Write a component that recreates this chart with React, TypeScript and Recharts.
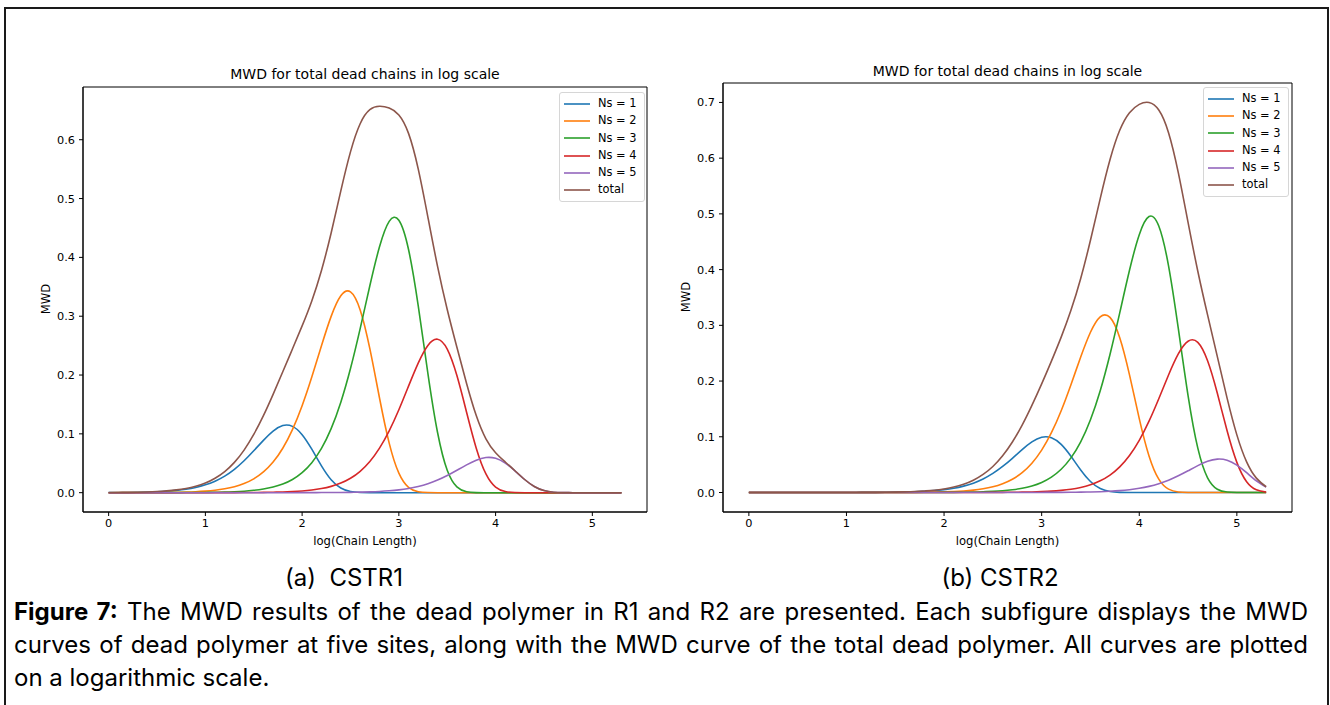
import React from 'react';
import { LineChart, Line, XAxis, YAxis, Legend, ReferenceArea } from 'recharts';

// x grid: log10(chain length)
const logLength = [
  0, 0.1, 0.2, 0.3, 0.4, 0.5, 0.6, 0.7, 0.8, 0.9,
  1, 1.1, 1.2, 1.3, 1.4, 1.5, 1.6, 1.7, 1.8, 1.9,
  2, 2.1, 2.2, 2.3, 2.4, 2.5, 2.6, 2.7, 2.8, 2.9,
  3, 3.1, 3.2, 3.3, 3.4, 3.5, 3.6, 3.7, 3.8, 3.9,
  4, 4.1, 4.2, 4.3, 4.4, 4.5, 4.6, 4.7, 4.8, 4.9,
  5, 5.1, 5.2, 5.3,
];

// CSTR1
const r1Ns1 = [
  0.0002, 0.0003, 0.0004, 0.0007, 0.001, 0.0016, 0.0025, 0.0039, 0.0059, 0.0089,
  0.0133, 0.0196, 0.0282, 0.0397, 0.0542, 0.0712, 0.089, 0.1047, 0.1141, 0.1127,
  0.0986, 0.0739, 0.0457, 0.0221, 0.0079, 0.0019, 0.0003, 0, 0, 0,
  0, 0, 0, 0, 0, 0, 0, 0, 0, 0,
  0, 0, 0, 0, 0, 0, 0, 0, 0, 0,
  0, 0, 0, 0,
];
const r1Ns2 = [
  0, 0.0001, 0.0001, 0.0001, 0.0002, 0.0003, 0.0005, 0.0007, 0.0011, 0.0017,
  0.0027, 0.0042, 0.0066, 0.0101, 0.0155, 0.0235, 0.0352, 0.052, 0.0755, 0.1072,
  0.1478, 0.1965, 0.2497, 0.2997, 0.3347, 0.3414, 0.3107, 0.2448, 0.161, 0.0843,
  0.0332, 0.0091, 0.0016, 0.0002, 0, 0, 0, 0, 0, 0,
  0, 0, 0, 0, 0, 0, 0, 0, 0, 0,
  0, 0, 0, 0,
];
const r1Ns3 = [
  0, 0, 0, 0, 0, 0, 0.0001, 0.0001, 0.0002, 0.0003,
  0.0004, 0.0007, 0.001, 0.0016, 0.0025, 0.004, 0.0062, 0.0096, 0.0147, 0.0225,
  0.0341, 0.051, 0.0752, 0.1088, 0.1538, 0.211, 0.2789, 0.3517, 0.418, 0.4612,
  0.4632, 0.4134, 0.318, 0.2029, 0.1023, 0.0382, 0.0099, 0.0016, 0.0001, 0,
  0, 0, 0, 0, 0, 0, 0, 0, 0, 0,
  0, 0, 0, 0,
];
const r1Ns4 = [
  0, 0, 0, 0, 0, 0, 0, 0, 0, 0,
  0, 0.0001, 0.0001, 0.0001, 0.0002, 0.0003, 0.0005, 0.0008, 0.0012, 0.0019,
  0.0029, 0.0045, 0.007, 0.0107, 0.0163, 0.0245, 0.0364, 0.0531, 0.0757, 0.1051,
  0.1409, 0.1811, 0.2203, 0.2503, 0.2609, 0.2441, 0.1991, 0.1368, 0.0757, 0.0319,
  0.0095, 0.0019, 0.0002, 0, 0, 0, 0, 0, 0, 0,
  0, 0, 0, 0,
];
const r1Ns5 = [
  0, 0, 0, 0, 0, 0, 0, 0, 0, 0,
  0, 0, 0, 0, 0, 0, 0, 0, 0, 0,
  0.0001, 0.0001, 0.0002, 0.0002, 0.0004, 0.0006, 0.0009, 0.0014, 0.0021, 0.0032,
  0.0048, 0.0072, 0.0106, 0.0152, 0.0214, 0.0291, 0.0381, 0.0473, 0.0553, 0.0597,
  0.0584, 0.0503, 0.0371, 0.0224, 0.0106, 0.0036, 0.0008, 0.0001, 0, 0,
  0, 0, 0, 0,
];
const r1Total = [
  0.0002, 0.0004, 0.0005, 0.0008, 0.0012, 0.0019, 0.0031, 0.0047, 0.0072, 0.0109,
  0.0164, 0.0246, 0.0359, 0.0515, 0.0724, 0.099, 0.1309, 0.1671, 0.2055, 0.2443,
  0.2835, 0.326, 0.3778, 0.4415, 0.5131, 0.5794, 0.6272, 0.651, 0.6568, 0.6538,
  0.6421, 0.6108, 0.5505, 0.4686, 0.3846, 0.3114, 0.2471, 0.1857, 0.1311, 0.0916,
  0.0679, 0.0522, 0.0373, 0.0224, 0.0106, 0.0036, 0.0008, 0.0001, 0, 0,
  0, 0, 0, 0,
];

// CSTR2
const r2Ns1 = [
  0, 0, 0, 0, 0, 0, 0, 0, 0, 0,
  0.0001, 0.0001, 0.0002, 0.0002, 0.0004, 0.0006, 0.0009, 0.0014, 0.0022, 0.0033,
  0.0051, 0.0076, 0.0114, 0.0168, 0.0243, 0.0342, 0.0467, 0.0614, 0.077, 0.0908,
  0.0991, 0.0983, 0.0863, 0.065, 0.0404, 0.0197, 0.0071, 0.0017, 0.0003, 0,
  0, 0, 0, 0, 0, 0, 0, 0, 0, 0,
  0, 0, 0, 0,
];
const r2Ns2 = [
  0, 0, 0, 0, 0, 0, 0, 0, 0, 0,
  0, 0, 0, 0.0001, 0.0001, 0.0001, 0.0002, 0.0003, 0.0005, 0.0007,
  0.0011, 0.0018, 0.0028, 0.0043, 0.0067, 0.0103, 0.0158, 0.0239, 0.0357, 0.0526,
  0.076, 0.1073, 0.1468, 0.1935, 0.2431, 0.2876, 0.3153, 0.3142, 0.2779, 0.2112,
  0.1327, 0.0657, 0.024, 0.006, 0.0009, 0.0001, 0, 0, 0, 0,
  0, 0, 0, 0,
];
const r2Ns3 = [
  0, 0, 0, 0, 0, 0, 0, 0, 0, 0,
  0, 0, 0, 0, 0, 0, 0, 0, 0.0001, 0.0001,
  0.0002, 0.0003, 0.0005, 0.0008, 0.0013, 0.002, 0.0031, 0.0049, 0.0076, 0.0118,
  0.0181, 0.0276, 0.0417, 0.0621, 0.0909, 0.1306, 0.1827, 0.2477, 0.3224, 0.3988,
  0.4627, 0.4952, 0.4783, 0.4068, 0.2944, 0.174, 0.0796, 0.0264, 0.0059, 0.0008,
  0.0001, 0, 0, 0,
];
const r2Ns4 = [
  0, 0, 0, 0, 0, 0, 0, 0, 0, 0,
  0, 0, 0, 0, 0, 0, 0, 0, 0, 0,
  0, 0, 0, 0.0001, 0.0001, 0.0002, 0.0003, 0.0004, 0.0006, 0.001,
  0.0016, 0.0024, 0.0038, 0.0059, 0.0091, 0.0139, 0.021, 0.0313, 0.0461, 0.0665,
  0.0937, 0.128, 0.1683, 0.2109, 0.2487, 0.2715, 0.2693, 0.2363, 0.1781, 0.1107,
  0.0541, 0.0194, 0.0048, 0.0007,
];
const r2Ns5 = [
  0, 0, 0, 0, 0, 0, 0, 0, 0, 0,
  0, 0, 0, 0, 0, 0, 0, 0, 0, 0,
  0, 0, 0, 0, 0, 0, 0, 0, 0, 0.0001,
  0.0001, 0.0002, 0.0002, 0.0004, 0.0006, 0.0009, 0.0014, 0.0022, 0.0033, 0.005,
  0.0075, 0.011, 0.0158, 0.0221, 0.03, 0.039, 0.0482, 0.056, 0.0599, 0.0579,
  0.0492, 0.0356, 0.021, 0.0096,
];
const r2Total = [
  0, 0, 0, 0, 0, 0, 0, 0, 0, 0,
  0.0001, 0.0001, 0.0002, 0.0003, 0.0005, 0.0007, 0.0011, 0.0017, 0.0028, 0.0041,
  0.0064, 0.0097, 0.0147, 0.022, 0.0324, 0.0467, 0.0659, 0.0906, 0.1209, 0.1563,
  0.1949, 0.2358, 0.2788, 0.3269, 0.3841, 0.4527, 0.5275, 0.5971, 0.65, 0.6815,
  0.6966, 0.6999, 0.6864, 0.6458, 0.574, 0.4846, 0.3971, 0.3187, 0.2439, 0.1694,
  0.1034, 0.055, 0.0258, 0.0103,
];

const seriesNames = ['Ns = 1', 'Ns = 2', 'Ns = 3', 'Ns = 4', 'Ns = 5', 'total'];
const seriesColors = ['#1f77b4', '#ff7f0e', '#2ca02c', '#d62728', '#9467bd', '#8c564b'];
const xTicks = [0, 1, 2, 3, 4, 5];
const r1YTicks = [0, 0.1, 0.2, 0.3, 0.4, 0.5, 0.6];
const r2YTicks = [0, 0.1, 0.2, 0.3, 0.4, 0.5, 0.6, 0.7];

const TITLE = 'MWD for total dead chains in log scale';
const MPL_FONT = '"DejaVu Sans", sans-serif';

function buildRows(series: number[][]) {
  return logLength.map((x, i) => {
    const row: Record<string, number> = { x };
    series.forEach((s, k) => { row['s' + k] = s[i]; });
    return row;
  });
}

const r1Rows = buildRows([r1Ns1, r1Ns2, r1Ns3, r1Ns4, r1Ns5, r1Total]);
const r2Rows = buildRows([r2Ns1, r2Ns2, r2Ns3, r2Ns4, r2Ns5, r2Total]);

const LegendBox = (props: any) => {
  const items = props.payload || [];
  return (
    <div
      style={{
        border: '1px solid #d6d6d6',
        borderRadius: 3,
        background: 'rgba(255,255,255,0.85)',
        padding: '2px 7px 2px 4px',
        fontFamily: MPL_FONT,
        fontSize: 11.4,
        color: '#000',
        lineHeight: '17.3px',
      }}
    >
      {items.map((it: any) => (
        <div key={it.value} style={{ display: 'flex', alignItems: 'center', height: 17.3 }}>
          <svg width={26} height={4} style={{ display: 'block' }}>
            <line x1={0} y1={2} x2={26} y2={2} stroke={it.color} strokeWidth={1.6} />
          </svg>
          <span style={{ marginLeft: 8, whiteSpace: 'pre' }}>{it.value}</span>
        </div>
      ))}
    </div>
  );
};

interface PanelProps {
  rows: Record<string, number>[];
  yTicks: number[];
  yMax: number;
  left: number;
  margin: { top: number; right: number; bottom: number; left: number };
  legendPos: { left: number; top: number };
}

function Panel({ rows, yTicks, yMax, left, margin, legendPos }: PanelProps) {
  const xDomain = [-0.265, 5.565];
  const yDomain = [-0.05 * yMax, 1.05 * yMax];
  const tickStyle = { fill: '#000', fontSize: 11.3, fontFamily: MPL_FONT };
  return (
    <div style={{ position: 'absolute', left, top: 0 }}>
      <LineChart width={660} height={560} data={rows} margin={margin}>
        <XAxis
          dataKey="x"
          type="number"
          domain={xDomain}
          ticks={xTicks}
          allowDataOverflow
          height={30}
          tick={tickStyle}
          tickSize={4}
          tickMargin={3}
          axisLine={{ stroke: '#000', strokeWidth: 1 }}
          tickLine={{ stroke: '#000', strokeWidth: 1 }}
        />
        <YAxis
          type="number"
          domain={yDomain}
          ticks={yTicks}
          allowDataOverflow
          width={40}
          tick={tickStyle}
          tickSize={4}
          tickMargin={4}
          tickFormatter={(v: number) => v.toFixed(1)}
          axisLine={{ stroke: '#000', strokeWidth: 1 }}
          tickLine={{ stroke: '#000', strokeWidth: 1 }}
        />
        {/* axes frame (top and right spines) */}
        <ReferenceArea
          x1={xDomain[0]}
          x2={xDomain[1]}
          y1={yDomain[0]}
          y2={yDomain[1]}
          fill="none"
          fillOpacity={0}
          stroke="#000"
          strokeWidth={1}
          ifOverflow="visible"
        />
        {seriesNames.map((name, k) => (
          <Line
            key={name}
            name={name}
            dataKey={'s' + k}
            type="natural"
            stroke={seriesColors[k]}
            strokeWidth={1.6}
            dot={false}
            activeDot={false}
            isAnimationActive={false}
          />
        ))}
        <Legend
          layout="vertical"
          align="center"
          verticalAlign="middle"
          wrapperStyle={{ left: legendPos.left, top: legendPos.top, width: 'auto' }}
          content={(p: any) => <LegendBox {...p} />}
        />
      </LineChart>
    </div>
  );
}

const textAbs = (extra: React.CSSProperties): React.CSSProperties => ({
  position: 'absolute',
  fontFamily: MPL_FONT,
  color: '#000',
  whiteSpace: 'pre',
  ...extra,
});

export default function App() {
  const capFont = 'Inter, Roboto, sans-serif';
  const capSize = 24;
  return (
    <div style={{ position: 'absolute', left: 0, top: 0, width: 1330, height: 705, overflow: 'hidden', background: '#fff' }}>
      <div
        style={{
          position: 'absolute', left: 4, top: 7, width: 1325, height: 740,
          border: '2px solid #1a1a1a', boxSizing: 'border-box',
        }}
      />

      <Panel
        rows={r1Rows}
        yTicks={r1YTicks}
        yMax={0.6568}
        left={0}
        margin={{ top: 87, right: 13, bottom: 18, left: 43 }}
        legendPos={{ left: 559, top: 92 }}
      />
      <Panel
        rows={r2Rows}
        yTicks={r2YTicks}
        yMax={0.6999}
        left={640}
        margin={{ top: 83, right: 8, bottom: 18, left: 43 }}
        legendPos={{ left: 563, top: 87 }}
      />

      {/* titles and axis labels */}
      <div style={textAbs({ left: 83, width: 564, top: 66, textAlign: 'center', fontSize: 14, lineHeight: '16px' })}>{TITLE}</div>
      <div style={textAbs({ left: 723, width: 569, top: 63, textAlign: 'center', fontSize: 14, lineHeight: '16px' })}>{TITLE}</div>
      <div style={textAbs({ left: 83, width: 564, top: 533, textAlign: 'center', fontSize: 11.6, lineHeight: '16px' })}>log(Chain Length)</div>
      <div style={textAbs({ left: 723, width: 569, top: 533, textAlign: 'center', fontSize: 11.6, lineHeight: '16px' })}>log(Chain Length)</div>
      <div style={textAbs({ left: 16, top: 291, width: 60, textAlign: 'center', fontSize: 11.6, lineHeight: '16px', transform: 'rotate(-90deg)' })}>MWD</div>
      <div style={textAbs({ left: 656, top: 289, width: 60, textAlign: 'center', fontSize: 11.6, lineHeight: '16px', transform: 'rotate(-90deg)' })}>MWD</div>

      {/* subfigure captions */}
      <div style={{ position: 'absolute', left: 244, width: 200, top: 564, textAlign: 'center', fontFamily: capFont, fontSize: capSize, lineHeight: '28px', whiteSpace: 'pre', color: '#000' }}>(a)  CSTR1</div>
      <div style={{ position: 'absolute', left: 900, width: 200, top: 564, textAlign: 'center', fontFamily: capFont, fontSize: capSize, lineHeight: '28px', whiteSpace: 'pre', color: '#000' }}>(b) CSTR2</div>

      {/* figure caption */}
      <div style={{ position: 'absolute', left: 14, top: 595, width: 1294, fontFamily: capFont, fontSize: capSize, lineHeight: '33px', color: '#000' }}>
        <div style={{ textAlign: 'justify', textAlignLast: 'justify' }}>
          <b>Figure 7:</b> The MWD results of the dead polymer in R1 and R2 are presented. Each subfigure displays the MWD
        </div>
        <div style={{ textAlign: 'justify', textAlignLast: 'justify' }}>
          curves of dead polymer at five sites, along with the MWD curve of the total dead polymer. All curves are plotted
        </div>
        <div>on a logarithmic scale.</div>
      </div>
    </div>
  );
}
